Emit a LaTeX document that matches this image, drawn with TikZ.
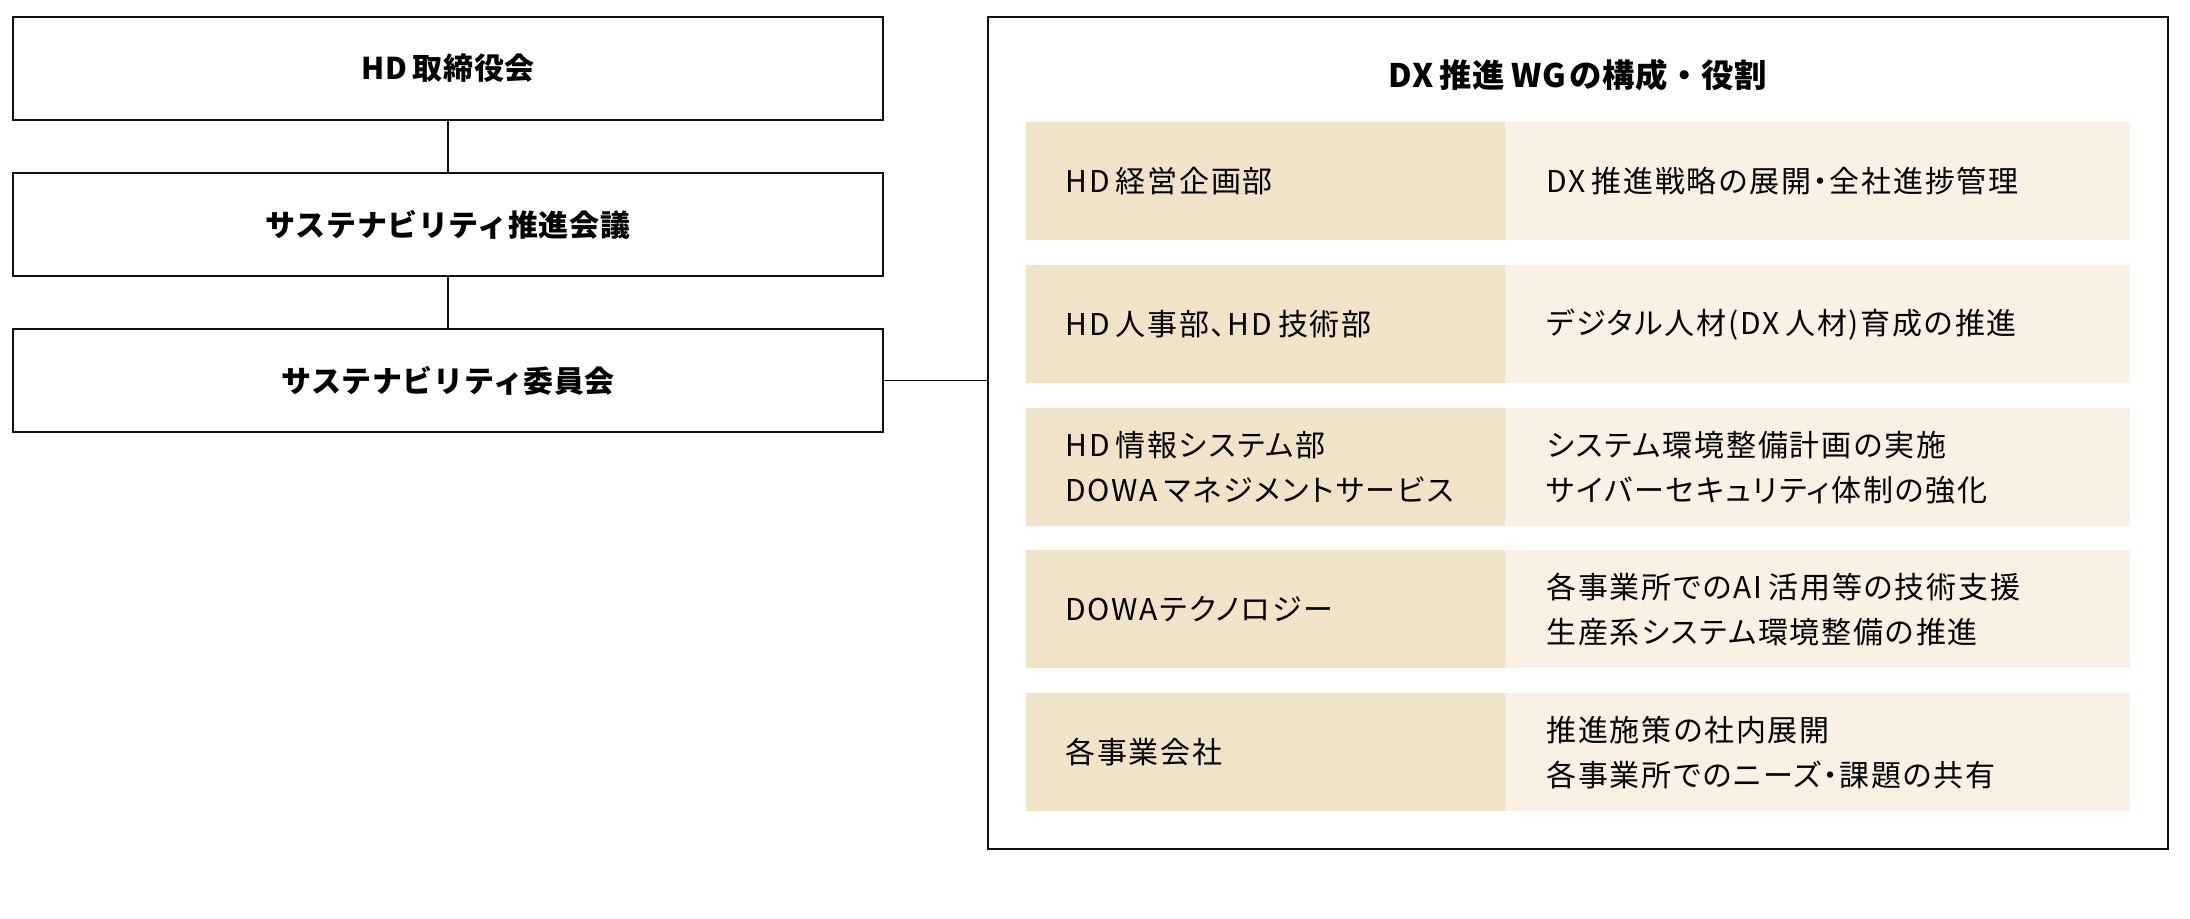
\documentclass[tikz,border=0pt]{standalone}
\usepackage{fontspec}
\setmainfont{Noto Sans CJK JP}
\definecolor{cellA}{HTML}{F1E3C8}
\definecolor{cellB}{HTML}{FAF1E4}
\definecolor{linec}{HTML}{111111}
\begin{document}
\begin{tikzpicture}[x=0.5pt,y=-0.5pt,
  orgbox/.style={draw=linec, line width=0.7pt, minimum width=435pt, minimum height=51.5pt, inner sep=0pt,
    font=\fontsize{15}{20}\selectfont\bfseries\addfontfeatures{LetterSpace=2}},
  frame/.style={draw=linec, line width=0.7pt, minimum width=590pt, minimum height=416pt, inner sep=0pt},
  wgtitle/.style={font=\fontsize{16.2}{20}\selectfont\bfseries\addfontfeatures{LetterSpace=2}, inner sep=0pt},
  cellL/.style={fill=cellA, minimum width=239.5pt, minimum height=59pt, inner sep=0pt, anchor=north west},
  cellR/.style={fill=cellB, minimum width=312.5pt, minimum height=59pt, inner sep=0pt, anchor=north west},
  celltext/.style={anchor=west, align=left, inner sep=0pt,
    font=\fontsize{15}{22.5}\selectfont\addfontfeatures{LetterSpace=6,RawFeature=+palt}},
  conn/.style={draw=linec, line width=0.7pt}
]
\useasboundingbox (0,0) rectangle (2190,918);
% left column
\node[orgbox] (b1) at (448,68.5) {HD\hspace{0.2em}取締役会};
\node[orgbox] (b2) at (448,224.5) {サステナビリティ推進会議};
\node[orgbox] (b3) at (448,380.5) {サステナビリティ委員会};
\draw[conn] (b1.south) -- (b2.north);
\draw[conn] (b2.south) -- (b3.north);
% right frame
\node[frame] (fr) at (1578,433) {};
\node[wgtitle] (title) at (1578,75) {DX\hspace{0.2em}推進\hspace{0.2em}WG\hspace{0.1em}の構成・役割};
\draw[conn] (b3.east) -- (b3.east -| fr.west);
% rows
\foreach \i/\y/\lt/\rt in {
  1/122/{HD\hspace{0.2em}経営企画部}/{DX\hspace{0.2em}推進戦略の展開・全社進捗管理},
  2/265/{HD\hspace{0.2em}人事部、HD\hspace{0.2em}技術部}/{デジタル人材(DX\hspace{0.2em}人材)育成の推進},
  3/408/{HD\hspace{0.2em}情報システム部\\DOWA\hspace{0.2em}マネジメントサービス}/{システム環境整備計画の実施\\サイバーセキュリティ体制の強化},
  4/550/{DOWAテクノロジー}/{各事業所でのAI\hspace{0.2em}活用等の技術支援\\生産系システム環境整備の推進},
  5/693/{各事業会社}/{推進施策の社内展開\\各事業所でのニーズ・課題の共有}}{
  \node[cellL] (l\i) at (1026,\y) {};
  \node[cellR] (r\i) at (1505,\y) {};
  \node[celltext] (lt\i) at ([xshift=19.5pt]l\i.west) {\lt};
  \node[celltext] (rt\i) at ([xshift=20.5pt]r\i.west) {\rt};
}
\end{tikzpicture}
\end{document}
